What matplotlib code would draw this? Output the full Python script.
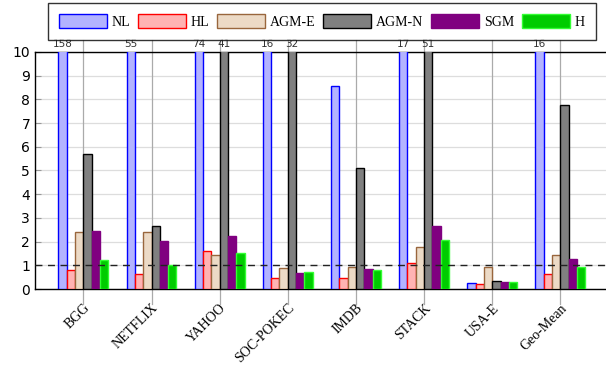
import matplotlib
matplotlib.use("Agg")
import matplotlib.pyplot as plt
import matplotlib.transforms as mtransforms
import numpy as np

categories = ["BGG", "NETFLIX", "YAHOO", "SOC-POKEC", "IMDB", "STACK", "USA-E", "Geo-Mean"]
series_names = ["NL", "HL", "AGM-E", "AGM-N", "SGM", "H"]

nl    = [158, 55, 74, 16, 8.58, 17, 0.25, 16]
hl    = [0.79, 0.62, 1.62, 0.45, 0.46, 1.10, 0.21, 0.63]
agm_e = [2.39, 2.39, 1.45, 0.88, 0.93, 1.78, 0.93, 1.42]
agm_n = [5.69, 2.65, 41, 32, 5.10, 51, 0.34, 7.75]
sgm   = [2.44, 2.01, 2.23, 0.69, 0.84, 2.65, 0.28, 1.25]
h     = [1.21, 1.00, 1.52, 0.70, 0.81, 2.08, 0.29, 0.93]

series = [nl, hl, agm_e, agm_n, sgm, h]
fills = ["#b3b3ff", "#ffb3b3", "#ecdac6", "#808080", "#800080", "#00cc00"]
edges = ["#0000ff", "#ff0000", "#99663d", "#000000", "#800080", "#33ff33"]

ymax = 10

fig = plt.figure(figsize=(6.06, 3.67), dpi=100)
ax = fig.add_axes([35 / 606, 0.2125, 1 - 35 / 606, 0.646])

x = np.arange(len(categories))
w = 0.122
for j, (vals, fc, ec, name) in enumerate(zip(series, fills, edges, series_names)):
    pos = x + (j - 2.5) * w
    ax.bar(pos, vals, width=w, color=fc, edgecolor=ec, linewidth=1.0,
           label=name, zorder=3)
    for px, v in zip(pos, vals):
        if v > ymax:
            ax.text(px, ymax + 0.12, f"{v:g}", ha="center", va="bottom",
                    fontsize=7.5, color="#333333", clip_on=False)

ax.set_xlim(-0.71, len(categories) - 1 + 0.67)
ax.set_ylim(0, ymax)
ax.set_yticks(range(0, 11))
ax.tick_params(axis="y", labelsize=10, direction="in", length=4, color="#999999")
ax.tick_params(axis="x", length=0, pad=9)
ax.set_xticks(x)
ax.set_xticklabels(categories, rotation=45, ha="right", va="top",
                   rotation_mode="anchor", family="Liberation Serif", fontsize=10)

ax.yaxis.grid(True, color="#dddddd", linewidth=0.9, zorder=0)
ax.set_axisbelow(True)

# category separators that run a bit past the frame
trans = mtransforms.blended_transform_factory(ax.transData, ax.transAxes)
for xi in x:
    ax.plot([xi, xi], [-0.065, 1.05], transform=trans, color="#aaaaaa",
            linewidth=0.9, clip_on=False, zorder=1)

ax.axhline(1, color="#222222", linestyle=(0, (5, 4)), linewidth=1.0, zorder=4)

for s in ["left", "bottom", "top"]:
    ax.spines[s].set_color("black")
    ax.spines[s].set_linewidth(1.0)
ax.spines["right"].set_visible(False)

leg = fig.legend(loc="center", bbox_to_anchor=(0.531, 0.941), ncol=6,
                 frameon=True, fancybox=False, handlelength=3.45, handleheight=1.15,
                 columnspacing=0.55, handletextpad=0.36, borderpad=0.8,
                 borderaxespad=0.0,
                 prop={"family": "Liberation Serif", "size": 10})
leg.get_frame().set_edgecolor("black")
leg.get_frame().set_linewidth(1.0)

fig.savefig("out.png", dpi=100)
